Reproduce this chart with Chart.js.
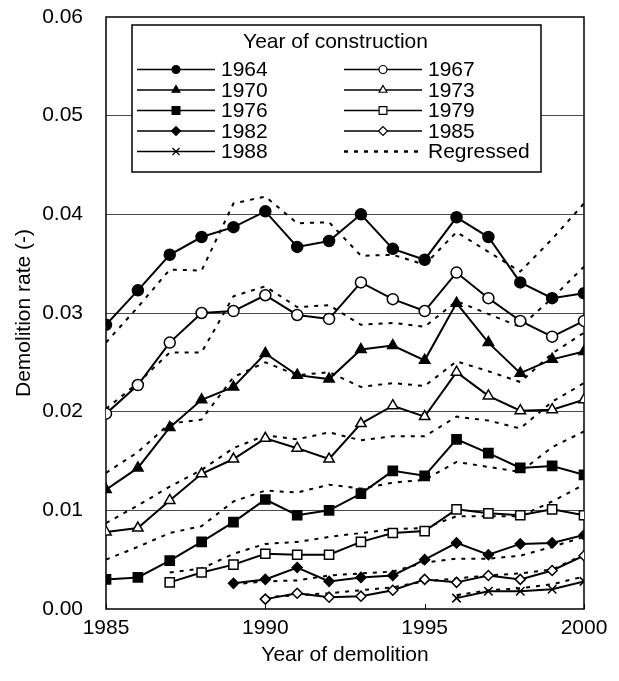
<!DOCTYPE html>
<html>
<head>
<meta charset="utf-8">
<script src="https://cdn.jsdelivr.net/npm/chart.js@4"></script>
<style>
  html, body { margin: 0; padding: 0; background: #fff; }
  #wrap { width: 619px; height: 681px; }
</style>
</head>
<body>
<div id="wrap"><canvas id="c" width="619" height="681"></canvas></div>
<script>
const years = [1985,1986,1987,1988,1989,1990,1991,1992,1993,1994,1995,1996,1997,1998,1999,2000];

const s1964 = [0.0288,0.0323,0.0359,0.0377,0.0387,0.0403,0.0367,0.0373,0.0400,0.0365,0.0354,0.0397,0.0377,0.0331,0.0315,0.0320];
const s1967 = [0.0198,0.0227,0.0270,0.0300,0.0302,0.0318,0.0298,0.0294,0.0331,0.0314,0.0302,0.0341,0.0315,0.0292,0.0276,0.0292];
const s1970 = [0.0121,0.0143,0.0184,0.0212,0.0225,0.0259,0.0237,0.0233,0.0263,0.0267,0.0252,0.0310,0.0270,0.0239,0.0253,0.0261];
const s1973 = [0.0078,0.0082,0.0110,0.0137,0.0152,0.0173,0.0163,0.0152,0.0188,0.0206,0.0195,0.0240,0.0216,0.0201,0.0202,0.0212];
const s1976 = [0.0030,0.0032,0.0049,0.0068,0.0088,0.0111,0.0095,0.0100,0.0117,0.0140,0.0135,0.0172,0.0158,0.0143,0.0145,0.0136];
const s1979 = [null,null,0.0027,0.0037,0.0045,0.0056,0.0055,0.0055,0.0068,0.0077,0.0079,0.0101,0.0097,0.0095,0.0101,0.0095];
const s1982 = [null,null,null,null,0.0026,0.0030,0.0042,0.0028,0.0032,0.0034,0.0050,0.0067,0.0055,0.0066,0.0067,0.0075];
const s1985 = [null,null,null,null,null,0.0010,0.0016,0.0012,0.0013,0.0019,0.0030,0.0027,0.0034,0.0030,0.0039,0.0054];
const s1988 = [null,null,null,null,null,null,null,null,null,null,null,0.0011,0.0018,0.0018,0.0020,0.0028];

const r1964 = [0.0270,0.0306,0.0344,0.0343,0.0411,0.0418,0.0391,0.0392,0.0358,0.0359,0.0349,0.0382,0.0362,0.0342,0.0375,0.0411];
const r1967 = [0.0203,0.0229,0.0260,0.0260,0.0317,0.0327,0.0306,0.0308,0.0288,0.0290,0.0286,0.0312,0.0299,0.0286,0.0315,0.0347];
const r1970 = [0.0138,0.0159,0.0188,0.0192,0.0235,0.0250,0.0237,0.0240,0.0225,0.0229,0.0226,0.0251,0.0241,0.0230,0.0259,0.0280];
const r1973 = [0.0087,0.0105,0.0124,0.0141,0.0163,0.0176,0.0172,0.0179,0.0171,0.0175,0.0175,0.0195,0.0191,0.0183,0.0210,0.0229];
const r1976 = [0.0050,0.0063,0.0077,0.0084,0.0109,0.0120,0.0118,0.0126,0.0122,0.0128,0.0131,0.0149,0.0144,0.0139,0.0164,0.0180];
const r1979 = [null,null,0.0037,0.0041,0.0056,0.0066,0.0068,0.0073,0.0077,0.0081,0.0082,0.0094,0.0094,0.0094,0.0109,0.0126];
const r1982 = [null,null,null,null,0.0025,0.0028,0.0029,0.0034,0.0036,0.0038,0.0047,0.0051,0.0051,0.0054,0.0063,0.0073];
const r1985 = [null,null,null,null,null,0.0012,0.0014,0.0016,0.0019,0.0022,0.0028,0.0031,0.0034,0.0036,0.0040,0.0055];
const r1988 = [null,null,null,null,null,null,null,null,null,null,null,0.0014,0.0019,0.0021,0.0025,0.0033];

const xTicks = [1985, 1990, 1995, 2000];
const yTicks = [0.00, 0.01, 0.02, 0.03, 0.04, 0.05, 0.06];

const legendTitle = 'Year of construction';
const regressedLabel = 'Regressed';

const FONT = '"Liberation Sans", Arial, sans-serif';
const FSIZE = 21;

function pts(arr) {
  return years.map((y, i) => ({ x: y, y: arr[i] }));
}

const series = [
  { label: '1964', data: s1964, style: 'circle', fill: '#000', r: 5.5, lr: 4 },
  { label: '1967', data: s1967, style: 'circle', fill: '#fff', r: 5.5, lr: 4 },
  { label: '1970', data: s1970, style: 'triangle', fill: '#000', r: 6, lr: 4.5 },
  { label: '1973', data: s1973, style: 'triangle', fill: '#fff', r: 6, lr: 4.5 },
  { label: '1976', data: s1976, style: 'rect', fill: '#000', r: 6.5, lr: 5.5 },
  { label: '1979', data: s1979, style: 'rect', fill: '#fff', r: 6.5, lr: 5.5 },
  { label: '1982', data: s1982, style: 'rectRot', fill: '#000', r: 5, lr: 4.5 },
  { label: '1985', data: s1985, style: 'rectRot', fill: '#fff', r: 5, lr: 4.5 },
  { label: '1988', data: s1988, style: 'crossRot', fill: '#000', r: 6, lr: 5 }
];
const regressed = [r1964, r1967, r1970, r1973, r1976, r1979, r1982, r1985, r1988];

const datasets = [];
series.forEach(s => {
  datasets.push({
    label: s.label,
    data: pts(s.data),
    borderColor: '#000',
    backgroundColor: s.fill,
    borderWidth: 2,
    pointStyle: s.style,
    pointRadius: s.r,
    pointBorderWidth: 1.5,
    pointBackgroundColor: s.fill,
    pointBorderColor: '#000',
    tension: 0,
    order: 1
  });
});
regressed.forEach((arr, i) => {
  datasets.push({
    label: regressedLabel + ' ' + series[i].label,
    data: pts(arr),
    borderColor: '#000',
    borderWidth: 2,
    borderDash: [4, 6],
    pointRadius: 0,
    tension: 0,
    order: 2
  });
});

function drawMarker(ctx, style, x, y, r, fill) {
  ctx.save();
  ctx.fillStyle = fill;
  ctx.strokeStyle = '#000';
  ctx.lineWidth = 1.2;
  ctx.setLineDash([]);
  ctx.beginPath();
  if (style === 'circle') {
    ctx.arc(x, y, r, 0, Math.PI * 2);
  } else if (style === 'triangle') {
    for (let k = 0; k < 3; k++) {
      const a = k * 2 * Math.PI / 3;
      const px = x + Math.sin(a) * r, py = y - Math.cos(a) * r;
      if (k === 0) ctx.moveTo(px, py); else ctx.lineTo(px, py);
    }
    ctx.closePath();
  } else if (style === 'rect') {
    const h = r * Math.SQRT1_2;
    ctx.rect(x - h, y - h, 2 * h, 2 * h);
  } else if (style === 'rectRot') {
    ctx.moveTo(x - r, y); ctx.lineTo(x, y - r); ctx.lineTo(x + r, y); ctx.lineTo(x, y + r);
    ctx.closePath();
  } else if (style === 'crossRot') {
    const h = r * Math.SQRT1_2;
    ctx.moveTo(x - h, y - h); ctx.lineTo(x + h, y + h);
    ctx.moveTo(x - h, y + h); ctx.lineTo(x + h, y - h);
    ctx.stroke();
    ctx.restore();
    return;
  }
  ctx.fill();
  ctx.stroke();
  ctx.restore();
}

const framePlugin = {
  id: 'frame',
  beforeDatasetsDraw(chart) {
    const { ctx, chartArea: ca, scales } = chart;
    ctx.save();
    ctx.strokeStyle = '#000';
    ctx.lineWidth = 1.5;
    ctx.strokeRect(ca.left, ca.top, ca.right - ca.left, ca.bottom - ca.top);
    ctx.lineWidth = 1;
    xTicks.forEach(v => {
      const px = Math.round(scales.x.getPixelForValue(v)) + 0.5;
      ctx.beginPath();
      ctx.moveTo(px, ca.bottom);
      ctx.lineTo(px, ca.bottom - 5);
      ctx.stroke();
    });
    ctx.restore();
  }
};

const legendPlugin = {
  id: 'customLegend',
  afterDatasetsDraw(chart) {
    const { ctx, chartArea: ca } = chart;
    const bx = ca.left + 26, by = ca.top + 8, bw = 409, bh = 147;
    ctx.save();
    ctx.fillStyle = '#fff';
    ctx.fillRect(bx, by, bw, bh);
    ctx.strokeStyle = '#000';
    ctx.lineWidth = 1.5;
    ctx.strokeRect(bx, by, bw, bh);
    ctx.fillStyle = '#000';
    ctx.font = FSIZE + 'px ' + FONT;
    ctx.textBaseline = 'middle';
    ctx.textAlign = 'center';
    ctx.fillText(legendTitle, bx + bw / 2 - 1, by + 17.5);
    ctx.textAlign = 'left';
    const items = series.map(s => ({ kind: 'series', s }));
    items.push({ kind: 'reg' });
    items.forEach((it, i) => {
      const col = i % 2, row = Math.floor(i / 2);
      const y = by + 44.5 + row * 20.5;
      const x0 = bx + 5 + col * 207;
      const x1 = x0 + 78;
      const xm = (x0 + x1) / 2;
      ctx.save();
      ctx.strokeStyle = '#000';
      ctx.lineWidth = 1.5;
      if (it.kind === 'reg') {
        ctx.lineWidth = 2.5;
        ctx.setLineDash([4, 6]);
      }
      ctx.beginPath();
      ctx.moveTo(x0, y);
      ctx.lineTo(x1, y);
      ctx.stroke();
      ctx.restore();
      if (it.kind === 'series') {
        drawMarker(ctx, it.s.style, xm, y, it.s.lr, it.s.fill);
      }
      ctx.fillStyle = '#000';
      ctx.fillText(it.kind === 'series' ? it.s.label : regressedLabel, x1 + 6, y + 1);
    });
    ctx.restore();
  }
};

new Chart(document.getElementById('c'), {
  type: 'line',
  data: { datasets },
  plugins: [framePlugin, legendPlugin],
  options: {
    responsive: false,
    animation: false,
    events: [],
    layout: { padding: { left: 0, right: 35, top: 17, bottom: 0 } },
    plugins: { legend: { display: false }, tooltip: { enabled: false } },
    scales: {
      x: {
        type: 'linear',
        min: 1985,
        max: 2000,
        afterFit(scale) { scale.height = 72; },
        afterBuildTicks(scale) { scale.ticks = xTicks.map(v => ({ value: v })); },
        ticks: {
          callback: v => String(v),
          color: '#000',
          font: { family: FONT, size: FSIZE },
          padding: 7,
          maxRotation: 0
        },
        grid: { display: false, drawTicks: false },
        border: { display: false },
        title: {
          display: true,
          text: 'Year of demolition',
          color: '#000',
          font: { family: FONT, size: FSIZE },
          padding: { top: 0, bottom: 13 }
        }
      },
      y: {
        type: 'linear',
        min: 0,
        max: 0.06,
        afterFit(scale) { scale.width = 106; scale.paddingTop = 0; scale.paddingBottom = 0; },
        afterBuildTicks(scale) { scale.ticks = yTicks.map(v => ({ value: v })); },
        ticks: {
          callback: v => Number(v).toFixed(2),
          color: '#000',
          font: { family: FONT, size: FSIZE },
          padding: 0
        },
        grid: {
          drawTicks: true,
          tickLength: 23,
          tickColor: 'rgba(0,0,0,0)',
          lineWidth: 1,
          color: c => (c.tick && (c.tick.value === 0 || Math.abs(c.tick.value - 0.06) < 1e-9)) ? 'rgba(0,0,0,0)' : '#4a4a4a'
        },
        border: { display: false },
        title: {
          display: true,
          text: 'Demolition rate (-)',
          color: '#000',
          font: { family: FONT, size: FSIZE },
          padding: { top: 12, bottom: 0 }
        }
      }
    }
  }
});
</script>
</body>
</html>
